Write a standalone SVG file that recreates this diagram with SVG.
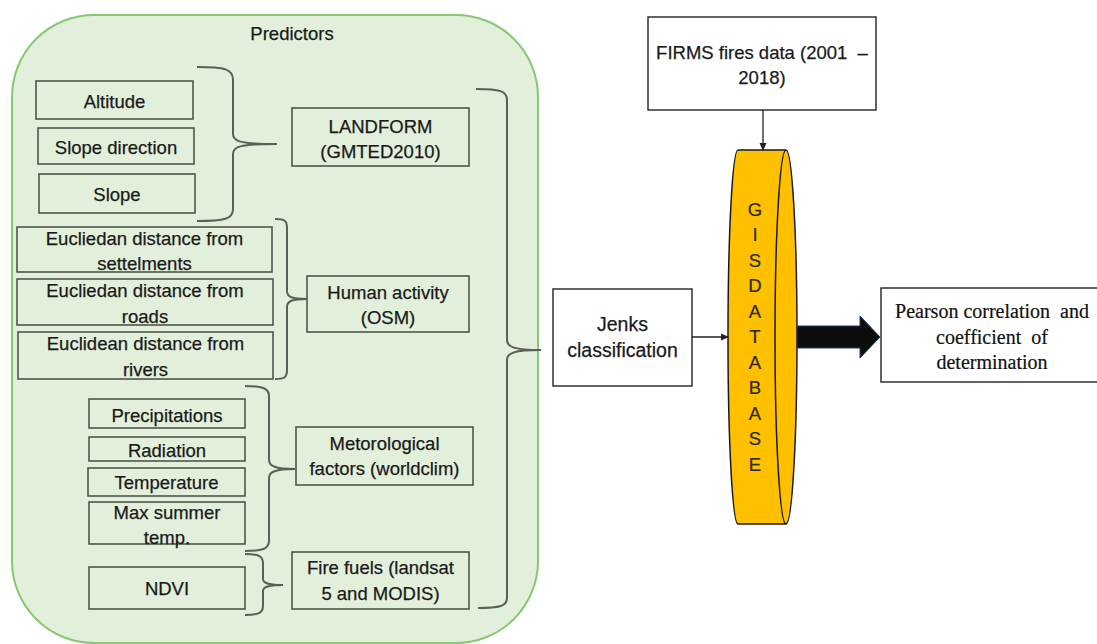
<svg xmlns="http://www.w3.org/2000/svg" width="1097" height="644" viewBox="0 0 1097 644">
<style>
.t{font-family:"Liberation Sans",Arial,sans-serif;font-size:18.5px;fill:#1a1a1a;stroke:#1a1a1a;stroke-width:0.25;text-anchor:middle}
.tr{font-family:"Liberation Serif","Times New Roman",serif;font-size:20px;fill:#111;stroke:#111;stroke-width:0.2;text-anchor:middle;white-space:pre}
.gb{fill:none;stroke:#4f564c;stroke-width:1.6}
.wb{fill:#fff;stroke:#222;stroke-width:1.4}
.br{fill:none;stroke:#5a5f58;stroke-width:2}
.ln{fill:none;stroke:#222;stroke-width:1.3}
.db{font-family:"Liberation Sans",Arial,sans-serif;font-size:18.5px;fill:#2a2a10;stroke:#2a2a10;stroke-width:0.2;text-anchor:middle}
</style>
<defs>
<marker id="ah" markerWidth="8" markerHeight="8" refX="7" refY="4" orient="auto" markerUnits="userSpaceOnUse">
<path d="M0,0.5 L8,4 L0,7.5 Z" fill="#222"/>
</marker>
</defs>
<rect width="1097" height="644" fill="#fff"/>
<g id="predictors">
<rect x="12" y="15" width="526" height="628" rx="82" ry="82" fill="#e2efda" stroke="#86c873" stroke-width="2"/>
<text class="t" x="292" y="40">Predictors</text>
</g>
<g id="altitude"><rect class="gb" x="36" y="81" width="157" height="38"/><text class="t" x="114.5" y="107.5">Altitude</text></g>
<g id="slope-direction"><rect class="gb" x="38" y="128" width="156" height="36"/><text class="t" x="116" y="153.5">Slope direction</text></g>
<g id="slope"><rect class="gb" x="39" y="174" width="156" height="39"/><text class="t" x="117" y="200.5">Slope</text></g>
<g id="landform"><rect class="gb" x="292" y="108" width="177" height="58"/><text class="t" x="380.5" y="132.5">LANDFORM</text><text class="t" x="380.5" y="157.5">(GMTED2010)</text></g>
<g id="settlements"><rect class="gb" x="17" y="227" width="255" height="45"/><text class="t" x="144.5" y="244.5">Eucliedan distance from</text><text class="t" x="144.5" y="269.5">settelments</text></g>
<g id="roads"><rect class="gb" x="17" y="279" width="256" height="46"/><text class="t" x="145" y="296.5">Eucliedan distance from</text><text class="t" x="145" y="322.5">roads</text></g>
<g id="rivers"><rect class="gb" x="18" y="332" width="255" height="47"/><text class="t" x="145.5" y="349.5">Euclidean distance from</text><text class="t" x="145.5" y="375.5">rivers</text></g>
<g id="human-activity"><rect class="gb" x="307" y="276" width="162" height="56"/><text class="t" x="388" y="298.5">Human activity</text><text class="t" x="388" y="323.5">(OSM)</text></g>
<g id="precipitations"><rect class="gb" x="89" y="399" width="156" height="29"/><text class="t" x="167" y="421.5">Precipitations</text></g>
<g id="radiation"><rect class="gb" x="89" y="437" width="156" height="24"/><text class="t" x="167" y="456.5">Radiation</text></g>
<g id="temperature"><rect class="gb" x="88" y="468" width="157" height="28"/><text class="t" x="166.5" y="488.5">Temperature</text></g>
<g id="max-summer-temp"><rect class="gb" x="89" y="502" width="156" height="42"/><text class="t" x="167" y="518.5">Max summer</text><text class="t" x="167" y="543.5">temp.</text></g>
<g id="ndvi"><rect class="gb" x="89" y="567" width="156" height="42"/><text class="t" x="167" y="594.5">NDVI</text></g>
<g id="meteorological"><rect class="gb" x="296" y="427" width="177" height="58"/><text class="t" x="384.5" y="450">Metorological</text><text class="t" x="384.5" y="475">factors (worldclim)</text></g>
<g id="fire-fuels"><rect class="gb" x="292" y="552" width="177" height="57"/><text class="t" x="380.5" y="574">Fire fuels (landsat</text><text class="t" x="380.5" y="599.5">5 and MODIS)</text></g>
<g id="firms"><rect class="wb" x="648" y="17" width="228" height="93"/><text class="t" x="762" y="58.5" style="white-space:pre" xml:space="preserve">FIRMS fires data (2001  –</text><text class="t" x="762" y="83.5">2018)</text></g>
<g id="jenks"><rect class="wb" x="553" y="289" width="139" height="97"/><text class="t" x="622.5" y="331" style="font-size:19.5px">Jenks</text><text class="t" x="622.5" y="357" style="font-size:19.5px">classification</text></g>
<g id="gis-database">
<path d="M738,150 L786,150 A11 187 0 0 1 786,524 L738,524 A10 187 0 0 1 738,150 Z" fill="#ffc000" stroke="#1a1a1a" stroke-width="1.5"/>
<path d="M786,150 A11 187 0 0 0 786,524" fill="none" stroke="#1a1a1a" stroke-width="1.5"/>
<text class="db" x="755" y="215.5">G</text>
<text class="db" x="755" y="241">I</text>
<text class="db" x="755" y="266.5">S</text>
<text class="db" x="755" y="292">D</text>
<text class="db" x="755" y="317.5">A</text>
<text class="db" x="755" y="343">T</text>
<text class="db" x="755" y="368.5">A</text>
<text class="db" x="755" y="394">B</text>
<text class="db" x="755" y="419.5">A</text>
<text class="db" x="755" y="445">S</text>
<text class="db" x="755" y="470.5">E</text>
</g>
<g id="pearson"><rect class="wb" x="881" y="288" width="230" height="94"/><text class="tr" x="992" y="318">Pearson correlation  and</text><text class="tr" x="992" y="344">coefficient  of</text><text class="tr" x="992" y="369">determination</text></g>
<g id="connectors">
<path class="br" d="M197,67 C225,67 233,69 233,80 L233,134 C233,141 238,144 277,144 C238,144 233,147 233,154 L233,209 C233,219 225,221 197,221"/>
<path class="br" d="M275,219 C284,219 287,220 287,228 L287,291 C287,297 292,299 307,299 C292,299 287,301 287,307 L287,370 C287,378 284,379 275,379"/>
<path class="br" d="M245,386 C262,386 269,388 269,396 L269,460 C269,466 275,469 295,469 C275,469 269,472 269,478 L269,541 C269,549 262,551 245,551"/>
<path class="br" d="M245,554 C258,554 263,556 263,563 L263,579 C263,583 268,585 283,585 C268,585 263,587 263,591 L263,606 C263,613 258,615 245,615"/>
<path class="br" d="M476,89 C500,89 507,91 507,100 L507,340 C507,347 514,350 541,350 C514,350 507,353 507,360 L507,598 C507,606 500,608 478,608"/>
<line class="ln" x1="763" y1="110" x2="763" y2="150" marker-end="url(#ah)"/>
<line class="ln" x1="692" y1="337" x2="728" y2="337" marker-end="url(#ah)"/>
<path d="M797,326 L860,326 L860,316 L880,337 L860,358 L860,348 L797,348 Z" fill="#0d0d0d" stroke="#203864" stroke-width="1"/>
</g>
</svg>
